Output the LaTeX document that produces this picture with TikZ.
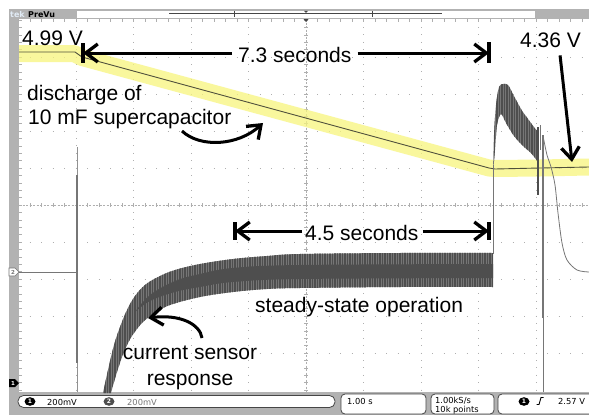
\documentclass[tikz,border=0pt]{standalone}
\usepackage{fontspec}
\setmainfont{Liberation Sans}
\newfontfamily\oscfont{DejaVu Sans}
\usetikzlibrary{arrows.meta,calc}
\definecolor{framegray}{RGB}{178,178,178}
\definecolor{gridgray}{RGB}{175,175,175}
\definecolor{hlyellow}{RGB}{247,245,125}
\definecolor{cha}{RGB}{80,80,60}
\definecolor{chb}{RGB}{118,118,118}
\definecolor{chbdark}{RGB}{78,78,78}
\definecolor{boxline}{RGB}{70,70,70}
\definecolor{teklogo}{RGB}{225,235,245}
\begin{document}
\begin{tikzpicture}[x=1pt,y=-1pt,
  ann/.style={font=\fontsize{21}{24}\selectfont, inner sep=0pt, anchor=base west},
  osc/.style={font=\oscfont\fontsize{8.3}{9}\selectfont, inner sep=0pt, anchor=base west},
  numdot/.style={font=\oscfont\bfseries\fontsize{6}{6}\selectfont, inner sep=0pt, text=white},
  annarrow/.style={line width=3pt, -{Straight Barb[length=12pt,width=18pt,line width=3.3pt]}},
  endbar/.style={line width=3.5pt},
  hdots/.style={gridgray, line width=0.9pt, dash pattern=on 0.9pt off 10.6pt},
  vdots/.style={gridgray, line width=0.9pt, dash pattern=on 0.9pt off 6.5pt},
  oscbox/.style={draw=boxline, fill=white, line width=0.8pt, rounded corners=4pt}
]
\useasboundingbox (0,0) rectangle (589,415);
\fill[white] (0,0) rectangle (589,415);
\fill[framegray] (9,9) rectangle (589,415);
\fill[white] (19,19) rectangle (589,392);

% graticule
\foreach \k in {1,...,9} {
  \draw[hdots] (18.05,{20+37*\k}) -- (589,{20+37*\k});
  \draw[vdots] ({18.5+57.5*\k},19.6) -- ({18.5+57.5*\k},392);
}
\foreach \i in {0,...,49} {
  \draw[gridgray, line width=0.6pt] ({18.5+11.5*\i},203) -- ++(0,4);
  \draw[gridgray, line width=0.6pt] ({18.5+11.5*\i},19) -- ++(0,3);
}
\foreach \i in {0,...,50} {
  \draw[gridgray, line width=0.6pt] (304,{20+7.4*\i}) -- ++(4,0);
  \draw[gridgray, line width=0.6pt] (19,{20+7.4*\i}) -- ++(3,0);
}
\draw[gridgray, line width=0.5pt, dash pattern=on 2pt off 1.5pt] (19,205) -- (589,205);
\draw[gridgray, line width=0.5pt, dash pattern=on 2pt off 1.5pt] (306,19) -- (306,392);

% top bar
\fill[white] (77,10.5) rectangle (535,17.5);
\node[osc, font=\oscfont\bfseries\fontsize{8}{9}\selectfont, text=teklogo] (tek) at (10,17) {tek};
\node[osc, font=\oscfont\bfseries\fontsize{8}{9}\selectfont] (prevu) at (28,17) {PreVu};
\draw[boxline, line width=0.7pt] (169,13.8) -- (442,13.8);
\draw[boxline, line width=0.7pt] (234,11) -- (234,16.8);
\draw[boxline, line width=0.7pt] (372,11) -- (372,16.8);
\fill[boxline] (304,10.8) -- (308,10.8) -- (306,13) -- cycle;
\fill[boxline] (303.5,19) -- (308.5,19) -- (306,22) -- cycle;

% channel 1 (supercapacitor voltage)
\draw[hlyellow, opacity=0.75, line width=17pt, line join=round]
  (19,53.5) -- (74,53.5) -- (82,57.5) -- (489,168) -- (495,168.5) -- (540,168) -- (589,167);
\draw[cha, line width=0.9pt]
  (19,52) -- (75,52) -- (82,57) -- (489,168) -- (495,169) -- (540,168) -- (589,167);

% channel 2 (current sensor)
\draw[chb, line width=0.8pt] (19,272) -- (77,272);
\draw[chb!80, line width=0.8pt] (77,147) -- (77,392);
\draw[chb, line width=1.2pt] (77,175) -- (77,363);
\begin{scope}
  \clip plot[smooth, tension=0.6] coordinates {(103,393) (108,370) (114,345) (120,327) (127,310) (135,296) (145,285) (158,277) (175,270) (200,264) (233,259) (267,256) (300,254) (400,253) (493,253)}
     -- plot[smooth, tension=0.6] coordinates {(493,287) (400,287) (300,288) (267,289) (233,292) (200,297) (170,305) (155,313) (143,322) (132,336) (124,352) (117,372) (111,393)} -- cycle;
  \fill[chb] (98,245) rectangle (495,395);
  \foreach \s in {100,102.5,...,494} \draw[chbdark, line width=1.4pt] (\s,245) -- (\s,395);
  \fill[chbdark] plot[smooth, tension=0.6] coordinates {(135,312) (150,295) (175,281) (200,274) (233,268) (300,265) (493,264)}
     -- plot[smooth, tension=0.6] coordinates {(493,278) (300,279) (233,282) (200,287) (175,292) (150,301) (135,312)} -- cycle;
\end{scope}
\begin{scope}
  \clip plot[smooth, tension=0.5] coordinates {(493,172) (494,135) (496,105) (499,87) (503,84) (508,85) (514,96) (521,109) (528,119) (534,127) (538,132)}
     -- plot[smooth, tension=0.5] coordinates {(538,162) (531,153) (523,146) (514,136) (506,123) (501,114) (497,125) (495,150) (493,172)} -- cycle;
  \fill[chb] (490,80) rectangle (540,175);
  \foreach \s in {492,494.5,...,540} \draw[chbdark, line width=1.4pt] (\s,80) -- (\s,175);
\end{scope}
\draw[chb, line width=1pt] (493,165) -- (493,254);
\draw[chbdark, line width=1.3pt] (538,127) -- (538,195);
\draw[chb, line width=0.8pt] (540.5,125) -- (540.5,150);
\draw[chb, line width=1.2pt] (543,135) -- (543,318);
\draw[chb, line width=0.8pt] (543,318) -- (543,392);
\draw[chb, line width=0.8pt] plot[smooth] coordinates {(543,136) (547,155) (551,167) (555,185) (558,213) (562,243) (567,260) (577,270) (589,272)};

% channel markers
\draw[chb, fill=white, line width=0.6pt] (9,268) -- (15,268) -- (19,272) -- (15,276) -- (9,276) -- cycle;
\node[font=\oscfont\bfseries\fontsize{5.5}{6}\selectfont, inner sep=0pt, text=chb] (m2) at (13,272) {2};
\fill[black] (9,379) -- (15,379) -- (19,383) -- (15,387) -- (9,387) -- cycle;
\node[numdot, font=\oscfont\bfseries\fontsize{5.5}{6}\selectfont] (m1) at (13,383) {1};

% bottom status bar
\draw[oscbox, rounded corners=5.5pt] (18,395.5) rectangle (335,407.5);
\draw[oscbox] (341,394) rectangle (426,414);
\draw[oscbox] (431,394) rectangle (494,414);
\draw[oscbox] (498,394) rectangle (600,414);
\fill[black] (30,401.5) ellipse [x radius=5.5pt, y radius=4.3pt];
\node[numdot] (c1) at (30,401.5) {1};
\node[osc] (v1) at (47,405) {200mV};
\fill[chbdark] (109,401.5) ellipse [x radius=5.5pt, y radius=4.3pt];
\node[numdot] (c2) at (109,401.5) {2};
\node[osc, text=chb] (v2) at (127,405) {200mV};
\node[osc] (tb) at (347,404) {1.00 s};
\node[osc] (sr) at (435,403) {1.00kS/s};
\node[osc] (rl) at (435,412.5) {10k points};
\fill[black] (524,401.5) ellipse [x radius=5.5pt, y radius=4.3pt];
\node[numdot] (c3) at (524,401.5) {1};
\draw[line width=0.9pt] (536.5,404.5) -- (539,404.5) -- (541,397.5) -- (543.5,397.5);
\node[osc] (tl) at (558,404) {2.57 V};

% annotations
\node[ann] (t499) at (22,45) {4.99 V};
\node[ann] (t73) at (238,62) {7.3 seconds};
\node[ann] (t436) at (520,47) {4.36 V};
\node[ann] (tdis1) at (27,100) {discharge of};
\node[ann] (tdis2) at (28,124) {10 mF supercapacitor};
\node[ann] (t45) at (305,240) {4.5 seconds};
\node[ann] (tss) at (255,312) {steady-state operation};
\node[ann, anchor=base] (tcs1) at (190,359) {current sensor};
\node[ann, anchor=base] (tcs2) at (190,385) {response};

\coordinate (b73L) at (83,53);
\coordinate (b73R) at (489,53);
\coordinate (b45L) at (235,231);
\coordinate (b45R) at (489,231);
\coordinate (a436e) at (572,162);
\coordinate (ca1) at (182,131);
\coordinate (ca2) at (263,123);
\coordinate (cs1) at (202,338);
\coordinate (cs2) at (148,318);

\draw[annarrow] ($(t73.west |- b73L)+(-6,0)$) -- (b73L);
\draw[annarrow] ($(t73.east |- b73R)+(6,0)$) -- (b73R);
\draw[endbar] ($(b73L)+(0,-10)$) -- ($(b73L)+(0,10)$);
\draw[endbar] ($(b73R)+(0,-11)$) -- ($(b73R)+(0,10)$);
\draw[annarrow] ($(t45.west |- b45L)+(-3,0)$) -- (b45L);
\draw[annarrow] ($(t45.east |- b45R)+(4,0)$) -- (b45R);
\draw[endbar] ($(b45L)+(0,-9)$) -- ($(b45L)+(0,9)$);
\draw[endbar] ($(b45R)+(0,-9)$) -- ($(b45R)+(0,9)$);
\draw[annarrow] ($(t436.south)+(9.5,8)$) -- (a436e);
\draw[annarrow] (ca1) .. controls (200,148) and (238,146) .. (ca2);
\draw[annarrow] (cs1) .. controls (200,324) and (180,314) .. (cs2);
\end{tikzpicture}
\end{document}
